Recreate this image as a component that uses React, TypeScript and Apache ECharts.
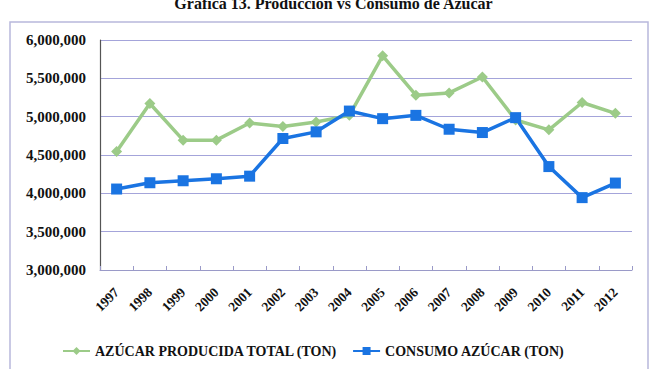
import React, { useEffect, useRef } from "react";
import * as echarts from "echarts";

const years = ["1997","1998","1999","2000","2001","2002","2003","2004","2005","2006","2007","2008","2009","2010","2011","2012"];
const produccion = [4547000,5172000,4694000,4694000,4918000,4871000,4931000,5017000,5793000,5280000,5310000,5517000,4957000,4828000,5185000,5043000];
const consumo = [4056000,4138000,4164000,4190000,4224000,4715000,4802000,5073000,4974000,5017000,4836000,4793000,4987000,4349000,3944000,4134000];
const seriesNames = ["AZÚCAR PRODUCIDA TOTAL (TON)", "CONSUMO AZÚCAR (TON)"];
const titleText = "Gráfica 13. Producción vs Consumo de Azúcar";

const FONT = "'Liberation Serif', 'Times New Roman', serif";

export default function App() {
  const ref = useRef<HTMLDivElement>(null);
  useEffect(() => {
    if (!ref.current) return;
    const chart = echarts.init(ref.current, null, { renderer: "svg" });
    chart.setOption({
      animation: false,
      backgroundColor: "#ffffff",
      title: {
        text: titleText,
        left: "center",
        top: -10,
        textStyle: { fontFamily: FONT, fontWeight: "bold", fontSize: 16, color: "#111" },
      },
      graphic: [
        {
          type: "rect",
          shape: { x: 10, y: 22, width: 638, height: 360 },
          style: { fill: "none", stroke: "#b8b8dc", lineWidth: 1.5 },
          silent: true,
        },
      ],
      legend: {
        left: 57,
        top: 339,
        itemWidth: 27,
        itemHeight: 10,
        itemGap: 14,
        textStyle: { fontFamily: FONT, fontWeight: "bold", fontSize: 14, color: "#111" },
        data: seriesNames,
      },
      grid: { left: 100, right: 35, top: 40, bottom: 99 },
      xAxis: {
        type: "category",
        data: years,
        boundaryGap: true,
        axisLine: { show: true, lineStyle: { color: "#9a9ac8", width: 1 } },
        axisTick: { show: true, inside: true, length: 4, lineStyle: { color: "#9a9ac8" } },
        axisLabel: {
          rotate: 45,
          interval: 0,
          margin: 20,
          fontFamily: FONT,
          fontWeight: "bold",
          fontSize: 13.5,
          color: "#111",
        },
      },
      yAxis: {
        type: "value",
        min: 3000000,
        max: 6000000,
        interval: 500000,
        axisLine: { show: true, lineStyle: { color: "#555", width: 1.2 } },
        axisTick: { show: false },
        splitLine: { lineStyle: { color: "#a4a4da", width: 1 } },
        axisLabel: {
          margin: 14,
          fontFamily: FONT,
          fontWeight: "bold",
          fontSize: 15,
          color: "#111",
          formatter: (v: number) => v.toLocaleString("en-US"),
        },
      },
      series: [
        {
          name: seriesNames[0],
          type: "line",
          data: produccion,
          symbol: "diamond",
          symbolSize: 11,
          lineStyle: { color: "#9ccb88", width: 3.5 },
          itemStyle: { color: "#9ccb88" },
        },
        {
          name: seriesNames[1],
          type: "line",
          data: consumo,
          symbol: "rect",
          symbolSize: 11,
          lineStyle: { color: "#1a74e2", width: 3.5 },
          itemStyle: { color: "#1a74e2" },
        },
      ],
    });
    return () => chart.dispose();
  }, []);
  return <div ref={ref} style={{ width: 667, height: 369, position: "absolute", left: 0, top: 0 }} />;
}
